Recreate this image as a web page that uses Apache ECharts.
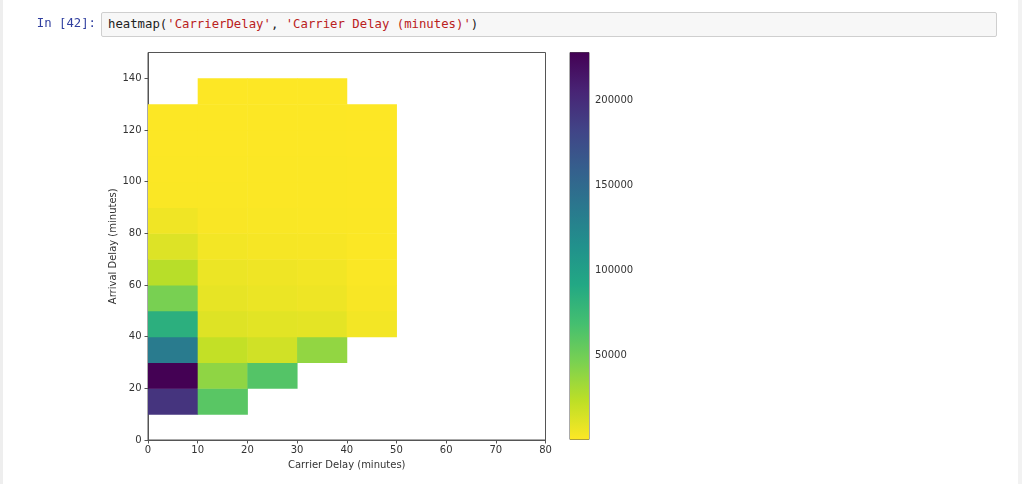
<!DOCTYPE html>
<html>
<head>
<meta charset="utf-8">
<script src="https://cdn.jsdelivr.net/npm/echarts@6/dist/echarts.min.js"></script>
<style>
  html, body { margin:0; padding:0; background:#fff; }
  #wrap { position:relative; width:1022px; height:484px; overflow:hidden; background:#fff; }
  #lstrip { position:absolute; left:0; top:0; width:3px; height:484px; background:#eeeeee; }
  #rstrip { position:absolute; right:0; top:0; width:4px; height:484px; background:#f2f2f2; }
  #prompt { position:absolute; left:20px; width:76px; top:16px; text-align:right;
    font-family:"DejaVu Sans Mono", "Liberation Mono", monospace; font-size:12.3px; color:#303F9F; }
  #code { position:absolute; left:101px; top:12px; width:896px; height:25px; box-sizing:border-box;
    background:#f7f7f7; border:1px solid #cfcfcf; border-radius:2px;
    font-family:"DejaVu Sans Mono", "Liberation Mono", monospace; font-size:12.3px; color:#222;
    padding:4px 0 0 6px; white-space:pre; }
  #code .s { color:#BA2121; }
  #chart { position:absolute; left:0; top:0; width:1022px; height:484px; }
</style>
</head>
<body>
<div id="wrap">
  <div id="chart"></div>
  <div id="lstrip"></div>
  <div id="rstrip"></div>
  <div id="prompt">In [42]:</div>
  <div id="code">heatmap(<span class="s">'CarrierDelay'</span>, <span class="s">'Carrier Delay (minutes)'</span>)</div>
</div>
<script>
// ---- data (bin starts, 10-minute bins) ----
const binSize = 10;
const col0 = { x: 0,  yStart: 10, counts: [194000, 228000, 134000, 85000, 47000, 25000, 12000, 5000, 1500, 1200, 1000, 900] };
const col1 = { x: 10, yStart: 10, counts: [60000, 39000, 21000, 11500, 8500, 6500, 4000, 2000, 1500, 1200, 1000, 800, 700] };
const col2 = { x: 20, yStart: 20, counts: [62000, 16500, 10000, 7000, 5500, 3000, 1800, 1400, 1100, 950, 800, 650] };
const col3 = { x: 30, yStart: 30, counts: [38000, 9500, 6000, 4500, 2500, 1700, 1300, 1100, 900, 750, 530] };
const col4 = { x: 40, yStart: 40, counts: [4000, 2200, 1700, 1400, 1100, 950, 800, 700, 600] };
const columns = [col0, col1, col2, col3, col4];

const xTicks = [0, 10, 20, 30, 40, 50, 60, 70, 80];
const yTicks = [0, 20, 40, 60, 80, 100, 120, 140];
const cbarTicks = [50000, 100000, 150000, 200000];
const viridisR = ['#fde725','#bddf26','#7ad151','#44bf70','#22a884','#21918c','#2a788e','#355f8d','#414487','#482475','#440154'];

// build cells
const cells = [];
columns.forEach(c => c.counts.forEach((v, i) => cells.push([c.x, c.yStart + i * binSize, v])));
const allVals = cells.map(c => c[2]);
const vmin = Math.min(...allVals), vmax = Math.max(...allVals);

const chart = echarts.init(document.getElementById('chart'));
const txt = '#333';
const axisCol = '#555';
const font = 'DejaVu Sans';

const gradStops = viridisR.slice().reverse().map((c, i, a) => ({ offset: i / (a.length - 1), color: c }));

chart.setOption({
  animation: false,
  backgroundColor: '#fff',
  textStyle: { fontFamily: font },
  grid: [
    { left: 148, width: 397.5, top: 52.5, height: 387.5, show: true, borderColor: axisCol, borderWidth: 1, backgroundColor: 'transparent' },
    { left: 570, width: 19, top: 52.5, height: 387, show: true, borderColor: axisCol, borderWidth: 1, backgroundColor: 'transparent' }
  ],
  xAxis: [
    { type: 'value', gridIndex: 0, min: 0, max: 80, interval: 10,
      name: 'Carrier Delay (minutes)', nameLocation: 'middle', nameGap: 18,
      nameTextStyle: { color: txt, fontSize: 10, fontFamily: font },
      axisLine: { show: true, lineStyle: { color: axisCol } },
      axisTick: { show: true, length: 3.5, lineStyle: { color: axisCol }, customValues: xTicks },
      axisLabel: { color: txt, fontSize: 10, margin: 5.5, fontFamily: font, customValues: xTicks },
      splitLine: { show: false } },
    { type: 'value', gridIndex: 1, min: 0, max: 1, show: false }
  ],
  yAxis: [
    { type: 'value', gridIndex: 0, min: 0, max: 150,
      name: 'Arrival Delay (minutes)', nameLocation: 'middle', nameGap: 27, nameRotate: 90,
      nameTextStyle: { color: txt, fontSize: 10, fontFamily: font },
      axisLine: { show: true, lineStyle: { color: axisCol } },
      axisTick: { show: true, length: 3.5, lineStyle: { color: axisCol }, customValues: yTicks },
      axisLabel: { color: txt, fontSize: 10, margin: 6.5, fontFamily: font, customValues: yTicks },
      splitLine: { show: false } },
    { type: 'value', gridIndex: 1, min: vmin, max: vmax, position: 'right',
      axisLine: { show: false },
      axisTick: { show: true, length: 3.5, inside: false, lineStyle: { color: axisCol }, customValues: cbarTicks },
      axisLabel: { color: txt, fontSize: 10, margin: 6, fontFamily: font, customValues: cbarTicks,
        formatter: v => String(Math.round(v)) },
      splitLine: { show: false } }
  ],
  visualMap: {
    show: false, type: 'continuous', seriesIndex: 0, dimension: 2,
    min: vmin, max: vmax, inRange: { color: viridisR }
  },
  series: [
    { type: 'custom', xAxisIndex: 0, yAxisIndex: 0, data: cells, encode: { x: 0, y: 1 },
      renderItem: function (params, api) {
        const x0 = api.value(0), y0 = api.value(1);
        const p0 = api.coord([x0, y0]);
        const p1 = api.coord([x0 + binSize, y0 + binSize]);
        return { type: 'rect',
          shape: { x: p0[0], y: p1[1], width: p1[0] - p0[0] + 0.5, height: p0[1] - p1[1] + 0.5 },
          style: { fill: api.visual('color') } };
      }, z: 1 },
    { type: 'custom', xAxisIndex: 1, yAxisIndex: 1, data: [[0, vmin, vmax]], encode: { x: 0, y: [1, 2] },
      renderItem: function (params, api) {
        const pBot = api.coord([0, api.value(1)]);
        const pTop = api.coord([1, api.value(2)]);
        return { type: 'rect',
          shape: { x: pBot[0], y: pTop[1], width: pTop[0] - pBot[0], height: pBot[1] - pTop[1] },
          style: { fill: new echarts.graphic.LinearGradient(0, 0, 0, 1, gradStops) } };
      }, z: 1 }
  ]
});
</script>
</body>
</html>
